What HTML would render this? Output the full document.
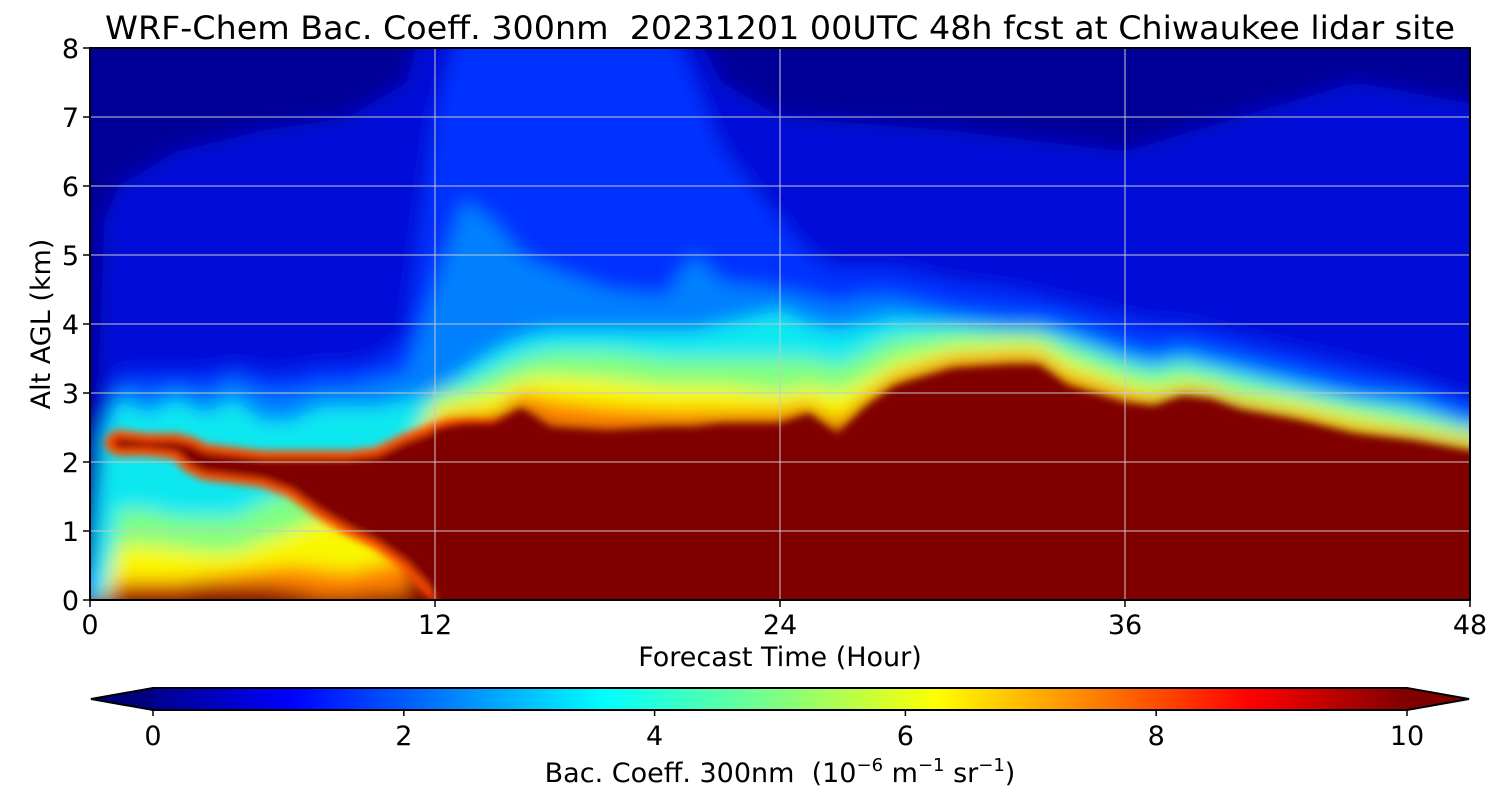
<!DOCTYPE html>
<html><head><meta charset="utf-8">
<style>
html,body{margin:0;padding:0;background:#fff;}
svg text{font-family:"DejaVu Sans","Liberation Sans",sans-serif;fill:#000;}
</style></head>
<body>
<svg id="chart" width="1500" height="800" xmlns="http://www.w3.org/2000/svg">
<defs>
<clipPath id="plotclip"><rect x="90" y="48" width="1380" height="552"/></clipPath>
<filter id="soft" x="-10%" y="-10%" width="120%" height="120%"><feGaussianBlur stdDeviation="9"/></filter>
<filter id="soft2" x="-20%" y="-20%" width="140%" height="140%"><feGaussianBlur stdDeviation="4"/></filter>
<linearGradient id="jet" x1="0" x2="1" y1="0" y2="0">
<stop offset="0" stop-color="#00008f"/><stop offset="0.11" stop-color="#0000ff"/>
<stop offset="0.36" stop-color="#00ffff"/><stop offset="0.5" stop-color="#80ff80"/>
<stop offset="0.625" stop-color="#ffff00"/><stop offset="0.875" stop-color="#ff0000"/>
<stop offset="1" stop-color="#800000"/></linearGradient>
</defs>
<g id="plot" clip-path="url(#plotclip)"></g>
<g id="axes"></g>
</svg>
<script>
const hours=[0,0.5,1,2,3,4,5,6,7,8,9,10,11,12,13,14,15,16,18,20,21,22,24,25,26,27,28,30,32,33,34,36,37,38,39,40,42,44,46,48];
const blueTop=[0.5,2.6,3.3,3.3,3.3,3.3,3.4,3.3,3.3,3.4,3.4,3.5,3.8,7.0,8.5,9,9,9,9,8.5,7.5,6.5,5.5,5.0,4.8,4.8,4.8,4.6,4.5,4.4,4.3,4.1,4.0,4.0,3.9,3.8,3.6,3.4,3.2,2.9];
const lightTop=[0,2.5,3.1,3.0,3.1,3.0,3.2,3.0,3.0,3.1,3.1,3.2,3.3,4.5,5.8,5.5,5.0,4.8,4.5,4.4,5.0,4.6,4.5,4.4,4.3,4.4,4.4,4.2,4.1,4.1,4.0,3.7,3.6,3.7,3.6,3.5,3.3,3.1,3.0,2.7];
const cyanTop=[0,2.4,2.9,2.7,2.9,2.7,2.9,2.6,2.6,2.8,2.8,2.8,2.9,3.0,3.3,3.6,3.8,3.9,3.9,3.9,3.9,4.0,4.2,4.0,3.9,4.0,4.1,4.0,3.9,3.9,3.8,3.5,3.4,3.5,3.4,3.3,3.1,2.9,2.8,2.5];
const greenTop=[0,0,1.3,1.3,1.2,1.2,1.2,1.4,1.6,1.8,1.9,2.0,2.2,3.0,3.1,3.3,3.5,3.6,3.6,3.5,3.5,3.5,3.5,3.5,3.4,3.6,3.8,3.9,3.9,3.9,3.7,3.4,3.3,3.4,3.3,3.2,3.0,2.85,2.7,2.5];
const yellowTop=[0,0,0.8,0.8,0.75,0.7,0.7,0.85,1.0,1.2,1.3,1.4,1.8,2.8,2.9,3.0,3.2,3.25,3.2,3.1,3.1,3.1,3.0,3.1,3.0,3.2,3.45,3.65,3.7,3.7,3.45,3.15,3.05,3.15,3.1,2.95,2.85,2.65,2.5,2.35];
const orangeTop=[0,0,0.3,0.3,0.3,0.35,0.4,0.45,0.5,0.45,0.4,0.5,0.6,2.6,2.7,2.7,3.0,2.9,2.8,2.75,2.75,2.75,2.75,2.85,2.6,2.95,3.25,3.5,3.55,3.55,3.25,3.0,2.9,3.05,3.0,2.85,2.7,2.5,2.4,2.25];
const darkTop=[0,0,0.15,0.15,0.15,0.2,0.2,0.2,0.15,0.05,0.05,0.1,0.1,2.45,2.55,2.55,2.78,2.5,2.45,2.5,2.5,2.55,2.55,2.7,2.4,2.8,3.1,3.35,3.4,3.4,3.1,2.85,2.8,2.95,2.9,2.75,2.6,2.4,2.3,2.15];
const navyHours=[0,0.5,1,3,6,9,11,12,20,22,24,30,36,40,44,48];
const navyBottom=[0,5.5,6,6.5,6.8,7,7.5,9,9,7.5,7,6.8,6.5,7,7.5,7.2];
const lensHours=[0.8,1,2,3,3.5,4,5,6,7,8,9,10,11,12,12.5];
const lensTop=[2.3,2.35,2.3,2.3,2.25,2.15,2.1,2.05,2.05,2.05,2.05,2.1,2.3,2.45,2.5];
const lensBot=[2.25,2.2,2.2,2.15,1.95,1.85,1.8,1.75,1.6,1.3,1.05,0.85,0.55,0.1,0];
const xTicks=[0,12,24,36,48];
const yTicks=[0,1,2,3,4,5,6,7,8];
const cbTicks=[0,2,4,6,8,10];

const X=h=>90+h*1380/48, Y=k=>600-k*69;
const NS="http://www.w3.org/2000/svg";
const plot=document.getElementById('plot'), axes=document.getElementById('axes');
function mk(tag,attrs,parent){const e=document.createElementNS(NS,tag);for(const k in attrs)e.setAttribute(k,attrs[k]);parent.appendChild(e);return e;}
function band(hs,top,bot,color,extra,noext){
  let pts=[];
  const e=noext?0:60;
  pts.push([X(hs[0])-e,Y(top[0])]);
  hs.forEach((h,i)=>pts.push([X(h),Y(top[i])]));
  pts.push([X(hs[hs.length-1])+60,Y(top[top.length-1])]);
  if(bot){for(let i=hs.length-1;i>=0;i--)pts.push([X(hs[i]),Y(bot[i])]);}
  else{pts.push([X(hs[hs.length-1])+60,Y(-1)]);pts.push([X(hs[0])-e,Y(-1)]);}
  return Object.assign({points:pts.map(p=>p.join(',')).join(' '),fill:color},extra||{});
}
const g=mk('g',{filter:'url(#soft)'},plot);
const bg=mk('rect',{x:0,y:0,width:1500,height:700,fill:'#0010d8'},g);


let npts=[];navyHours.forEach((h,i)=>npts.push([X(h),Y(navyBottom[i])]));
npts.push([X(50),Y(7.2)],[X(50),Y(9)],[X(-2),Y(9)],[X(-2),Y(-1)],[X(0.2),Y(-1)]);
const nav=mk('polygon',{points:npts.map(p=>p.join(',')).join(' '),fill:'#000098'},g);


const layers=[[blueTop,'#0030ff','blue-layer'],[lightTop,'#0080ff','light-blue-layer'],[cyanTop,'#10e8f0','cyan-layer'],[greenTop,'#80ff80','green-layer'],[yellowTop,'#f8f800','yellow-layer'],[orangeTop,'#ff8000','orange-layer'],[darkTop,'#800000','saturated-layer']];
layers.forEach(([arr,c,n])=>{
  const p=mk('polygon',band(hours,arr,null,c),g);
  
  
});
const g2=mk('g',{filter:'url(#soft2)'},plot);
const halo=mk('polygon',band(lensHours,lensTop,lensBot,'#ff2000',{stroke:'#ff5000','stroke-width':16,'stroke-linejoin':'round'},true),g2);


const lens=mk('polygon',band(lensHours,lensTop,lensBot,'#800000',null,true),g2);


const dk=mk('polygon',band(hours.slice(13),darkTop.slice(13),null,'#800000',{filter:'url(#soft2)'},true),plot);


xTicks.forEach(t=>{const l=mk('line',{x1:X(t),x2:X(t),y1:48,y2:600,stroke:'#c8c8c8','stroke-width':1},plot);

});
yTicks.forEach(t=>{const l=mk('line',{x1:90,x2:1470,y1:Y(t),y2:Y(t),stroke:'#c8c8c8','stroke-width':1},plot);

});
const fr=mk('rect',{x:90,y:48,width:1380,height:552,fill:'none',stroke:'#000','stroke-width':2},axes);


xTicks.forEach(t=>{mk('line',{x1:X(t),x2:X(t),y1:600,y2:607,stroke:'#000','stroke-width':1.5},axes);
const tx=mk('text',{x:X(t),y:634,'font-size':27,'text-anchor':'middle'},axes);tx.textContent=t;

});
yTicks.forEach(t=>{mk('line',{x1:83,x2:90,y1:Y(t),y2:Y(t),stroke:'#000','stroke-width':1.5},axes);
const tx=mk('text',{x:79,y:Y(t)+10,'font-size':27,'text-anchor':'end'},axes);tx.textContent=t;

});
const title=mk('text',{x:780,y:39,'font-size':32,'text-anchor':'middle',textLength:1350,lengthAdjust:'spacingAndGlyphs'},axes);
title.textContent='WRF-Chem Bac. Coeff. 300nm  20231201 00UTC 48h fcst at Chiwaukee lidar site';


title.style.whiteSpace='pre';
const xl=mk('text',{x:780,y:666,'font-size':27,'text-anchor':'middle'},axes);xl.textContent='Forecast Time (Hour)';


const yl=mk('text',{x:0,y:0,'font-size':27,'text-anchor':'middle',transform:'translate(50,324) rotate(-90)'},axes);yl.textContent='Alt AGL (km)';


const CB=v=>153+v*125.4;
const cb=mk('g',{},axes);


mk('rect',{x:153,y:688,width:1254,height:22,fill:'url(#jet)'},cb);
mk('polygon',{points:'153,688 91,699 153,710',fill:'#00007f'},cb);
mk('polygon',{points:'1407,688 1469,699 1407,710',fill:'#800000'},cb);
mk('polygon',{points:'153,688 1407,688 1469,699 1407,710 153,710 91,699',fill:'none',stroke:'#000','stroke-width':2},cb);
cbTicks.forEach(t=>{mk('line',{x1:CB(t),x2:CB(t),y1:710,y2:716,stroke:'#000','stroke-width':1.5},cb);
const tx=mk('text',{x:CB(t),y:745,'font-size':27,'text-anchor':'middle'},cb);tx.textContent=t;

});
const cl=mk('text',{x:780,y:782,'font-size':27,'text-anchor':'middle'},cb);
cl.innerHTML='Bac. Coeff. 300nm  (10<tspan dy="-11" font-size="18">−6</tspan><tspan dy="11"> m</tspan><tspan dy="-11" font-size="18">−1</tspan><tspan dy="11"> sr</tspan><tspan dy="-11" font-size="18">−1</tspan><tspan dy="11">)</tspan>';


cl.style.whiteSpace='pre';
</script>
</body></html>
